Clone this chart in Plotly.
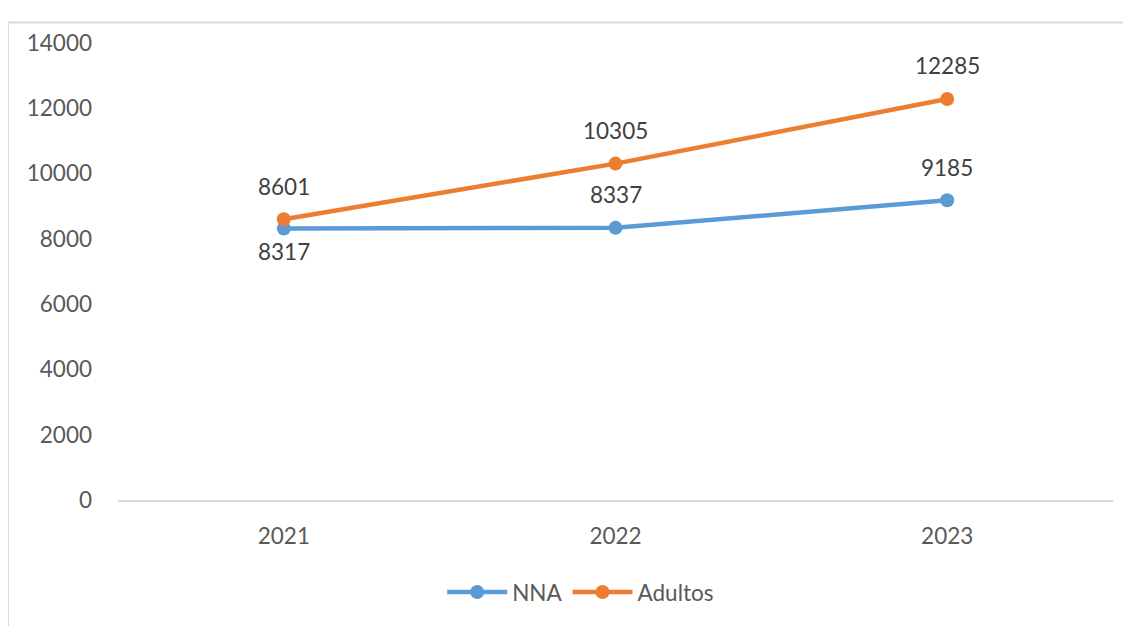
import plotly.graph_objects as go

years = ["2021", "2022", "2023"]
nna = [8317, 8337, 9185]
adultos = [8601, 10305, 12285]
nna_label_side = [-1, 1, 1]   # -1 below, 1 above
adultos_label_side = [1, 1, 1]

BLUE = "#5B9BD5"
ORANGE = "#ED7D31"
FONT = "Lato, Open Sans, sans-serif"

# page body has 8px default margin; compensate
OFF = 8
W, H = 1131 - OFF, 626 - OFF
L, R, T, B = 118 - OFF, 18, 43 - OFF, 124 - OFF
PW, PH = W - L - R, H - T - B

fig = go.Figure()
fig.add_trace(go.Scatter(x=years, y=nna, name="NNA", mode="lines+markers",
                         line=dict(color=BLUE, width=4.5),
                         marker=dict(size=14, color=BLUE)))
fig.add_trace(go.Scatter(x=years, y=adultos, name="Adultos", mode="lines+markers",
                         line=dict(color=ORANGE, width=4.5),
                         marker=dict(size=14, color=ORANGE)))

annotations = []
for vals, sides in ((nna, nna_label_side), (adultos, adultos_label_side)):
    for i, (v, s) in enumerate(zip(vals, sides)):
        annotations.append(dict(x=i, y=v, xref="x", yref="y", text=str(v), showarrow=False,
                                yshift=33 if s > 0 else -23,
                                font=dict(family=FONT, size=22.5, color="#404040")))

fig.update_layout(
    width=W, height=H,
    margin=dict(l=L, r=R, t=T, b=B),
    paper_bgcolor="white", plot_bgcolor="white",
    font=dict(family=FONT, size=22.5, color="#595959"),
    showlegend=True,
    legend=dict(orientation="h", x=0.465, xanchor="center", y=-0.155, yanchor="top",
                font=dict(family=FONT, size=22.5, color="#595959"), itemwidth=60),
    xaxis=dict(type="category", range=[-0.5, 2.5], showgrid=False, showline=True,
               linecolor="#d9d9d9", linewidth=2, ticks="", ticklabelstandoff=15),
    yaxis=dict(range=[0, 14000], dtick=2000, tickformat="d", showgrid=False, zeroline=False,
               showline=False, ticks="", ticklabelstandoff=25),
    annotations=annotations,
    shapes=[dict(type="rect", xref="paper", yref="paper",
                 x0=(8 - 118) / PW, x1=(1140 - 118) / PW,
                 y0=(502 - 640) / PH, y1=(502 - 14) / PH,
                 line=dict(color="#d9d9d9", width=2), fillcolor="rgba(0,0,0,0)", layer="below")],
)

fig.write_html("out.html")
